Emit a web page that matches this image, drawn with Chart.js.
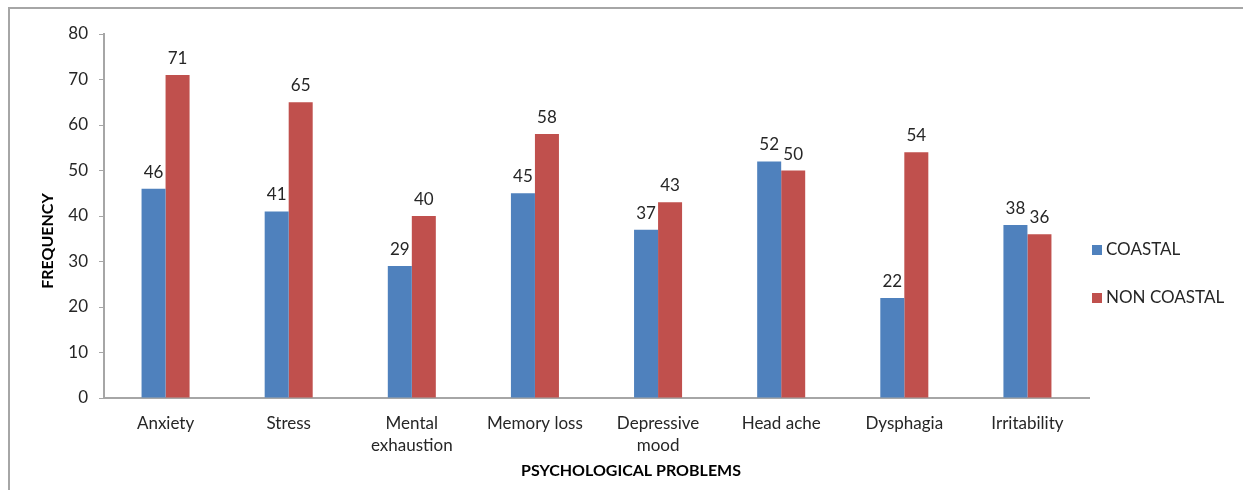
<!DOCTYPE html>
<html>
<head>
<meta charset="utf-8">
<script src="https://cdn.jsdelivr.net/npm/chart.js@4.4.1/dist/chart.umd.min.js"></script>
<style>
  html, body { margin: 0; padding: 0; background: #fff; }
  #wrap { position: relative; width: 1243px; height: 490px; }
</style>
</head>
<body>
<div id="wrap"><canvas id="chart" width="1243" height="490"></canvas></div>
<script>
const categories = ["Anxiety", "Stress", ["Mental", "exhaustion"], "Memory loss", ["Depressive", "mood"], "Head ache", "Dysphagia", "Irritability"];
const coastal    = [46, 41, 29, 45, 37, 52, 22, 38];
const nonCoastal = [71, 65, 40, 58, 43, 50, 54, 36];
const yTicks     = [0, 10, 20, 30, 40, 50, 60, 70, 80];

const FONT = "Lato, 'Open Sans', sans-serif";
const TXT = "#262626";

// value labels above bars + frame, axis titles and legend like the Excel original
const decor = {
  id: "decor",
  beforeDraw(chart) {
    const ctx = chart.ctx;
    ctx.save();
    ctx.strokeStyle = "#a6a6a6";
    ctx.lineWidth = 2;
    ctx.beginPath();
    ctx.moveTo(9, 500);
    ctx.lineTo(9, 8);
    ctx.lineTo(1250, 8);
    ctx.stroke();
    ctx.restore();
  },
  afterDatasetsDraw(chart) {
    const ctx = chart.ctx;
    ctx.save();
    ctx.font = "17px " + FONT;
    ctx.fillStyle = TXT;
    ctx.textAlign = "center";
    ctx.textBaseline = "alphabetic";
    chart.data.datasets.forEach((ds, i) => {
      chart.getDatasetMeta(i).data.forEach((bar, j) => {
        ctx.fillText(String(ds.data[j]), bar.x, bar.y - 11);
      });
    });
    ctx.restore();
  },
  afterDraw(chart) {
    const ctx = chart.ctx;
    const a = chart.chartArea;
    ctx.save();
    ctx.fillStyle = "#000";
    ctx.font = "bold 16px " + FONT;
    ctx.textAlign = "center";
    ctx.textBaseline = "middle";
    ctx.fillText("PSYCHOLOGICAL PROBLEMS", 631, 471);
    ctx.save();
    ctx.translate(48, (a.top + a.bottom) / 2 + 25);
    ctx.rotate(-Math.PI / 2);
    ctx.fillText("FREQUENCY", 0, 0);
    ctx.restore();

    // legend
    ctx.font = "17px " + FONT;
    ctx.textAlign = "left";
    chart.data.datasets.forEach((ds, i) => {
      const y = 250 + i * 48;
      ctx.fillStyle = ds.backgroundColor;
      ctx.fillRect(1092, y - 5, 10, 10);
      ctx.fillStyle = TXT;
      ctx.fillText(ds.label, 1106, y);
    });
    ctx.restore();
  }
};

new Chart(document.getElementById("chart"), {
  type: "bar",
  data: {
    labels: categories,
    datasets: [
      { label: "COASTAL", data: coastal, backgroundColor: "#4f81bd" },
      { label: "NON COASTAL", data: nonCoastal, backgroundColor: "#c0504d" }
    ]
  },
  options: {
    responsive: false,
    animation: false,
    layout: { padding: { left: 0, right: 154, top: 34, bottom: 0 } },
    plugins: { legend: { display: false }, tooltip: { enabled: false } },
    datasets: { bar: { categoryPercentage: 0.39, barPercentage: 1.0 } },
    scales: {
      x: {
        grid: { display: false, drawTicks: false },
        border: { display: true, color: "#a6a6a6", width: 2 },
        ticks: { color: TXT, font: { family: FONT, size: 17, lineHeight: 1.3 }, padding: 14, maxRotation: 0, autoSkip: false },
        afterFit: s => { s.height = 92; }
      },
      y: {
        min: 0, max: 80,
        afterBuildTicks: s => { s.ticks = yTicks.map(v => ({ value: v })); },
        grid: { drawOnChartArea: false, drawTicks: true, tickLength: 5, color: "#a6a6a6" },
        border: { display: true, color: "#a6a6a6", width: 2 },
        ticks: { color: TXT, font: { family: FONT, size: 17 }, padding: 11 },
        afterFit: s => { s.width = 104; }
      }
    }
  },
  plugins: [decor]
});
</script>
</body>
</html>
